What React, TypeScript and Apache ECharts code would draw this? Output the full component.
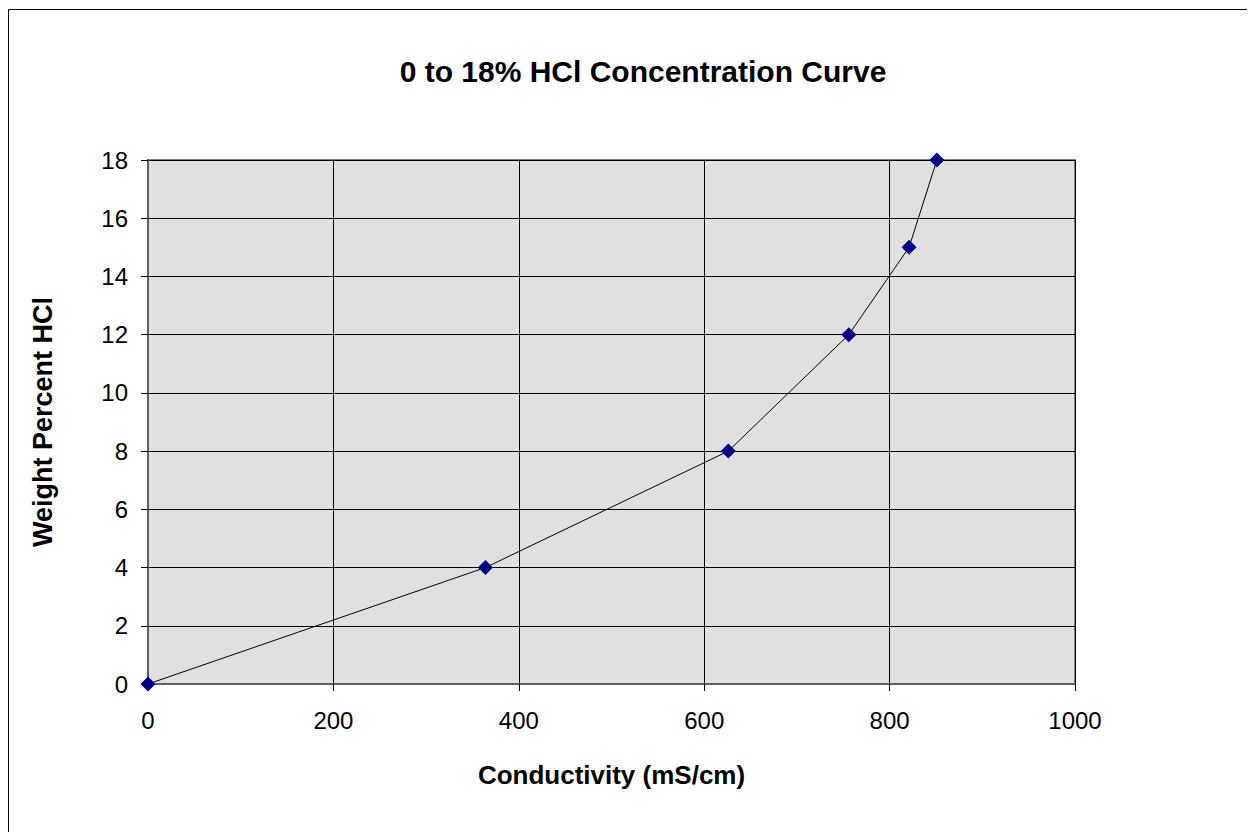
import React, { useEffect, useRef } from "react";
import * as echarts from "echarts";

const conductivity: number[] = [0, 364, 626, 756, 821, 851];
const weightPercent: number[] = [0, 4, 8, 12, 15, 18];

const titleText = "0 to 18% HCl Concentration Curve";
const xAxisTitle = "Conductivity (mS/cm)";
const yAxisTitle = "Weight Percent HCl";

export default function App() {
  const ref = useRef<HTMLDivElement>(null);
  useEffect(() => {
    if (!ref.current) return;
    const chart = echarts.init(ref.current, null, { renderer: "svg" });
    const font = "'Liberation Sans', Arial, sans-serif";
    chart.setOption({
      animation: false,
      backgroundColor: "#ffffff",
      title: {
        text: titleText,
        left: 630,
        top: 43,
        textAlign: "center",
        textStyle: { fontFamily: font, fontSize: 30, fontWeight: "bold", color: "#000" },
      },
      graphic: [
        {
          type: "rect",
          silent: true,
          shape: { x: 0.5, y: 1.5, width: 1400, height: 1000 },
          style: { fill: "none", stroke: "#000", lineWidth: 1 },
        },
      ],
      grid: {
        left: 140,
        top: 152,
        width: 927,
        height: 524,
        show: true,
        backgroundColor: "#e0e0e0",
        borderColor: "#808080",
        borderWidth: 2,
      },
      xAxis: {
        type: "value",
        min: 0,
        max: 1000,
        interval: 200,
        name: xAxisTitle,
        nameLocation: "middle",
        nameGap: 78,
        nameTextStyle: { fontFamily: font, fontSize: 26, fontWeight: "bold", color: "#000" },
        axisLine: { show: true, lineStyle: { color: "#606060", width: 2 } },
        axisTick: { show: true, length: 7, lineStyle: { color: "#000", width: 1 } },
        axisLabel: {
          fontFamily: font,
          fontSize: 24,
          color: "#000",
          margin: 24,
          formatter: (v: number) => String(v),
        },
        splitLine: { show: true, lineStyle: { color: "#000", width: 1 } },
      },
      yAxis: {
        type: "value",
        min: 0,
        max: 18,
        interval: 2,
        name: yAxisTitle,
        nameLocation: "middle",
        nameRotate: 90,
        nameGap: 92,
        nameTextStyle: { fontFamily: font, fontSize: 27, fontWeight: "bold", color: "#000" },
        axisLine: { show: true, lineStyle: { color: "#606060", width: 2 } },
        axisTick: { show: true, length: 7, lineStyle: { color: "#000", width: 1 } },
        axisLabel: {
          fontFamily: font,
          fontSize: 24,
          color: "#000",
          margin: 20,
          formatter: (v: number) => String(v),
        },
        splitLine: { show: true, lineStyle: { color: "#000", width: 1 } },
      },
      series: [
        {
          type: "line",
          data: conductivity.map((c, i) => [c, weightPercent[i]]),
          symbol: "diamond",
          symbolSize: 15,
          itemStyle: { color: "#000080" },
          lineStyle: { color: "#000", width: 1 },
          clip: false,
        },
      ],
    });
    return () => chart.dispose();
  }, []);
  return <div ref={ref} style={{ width: 1247, height: 824 }} />;
}
